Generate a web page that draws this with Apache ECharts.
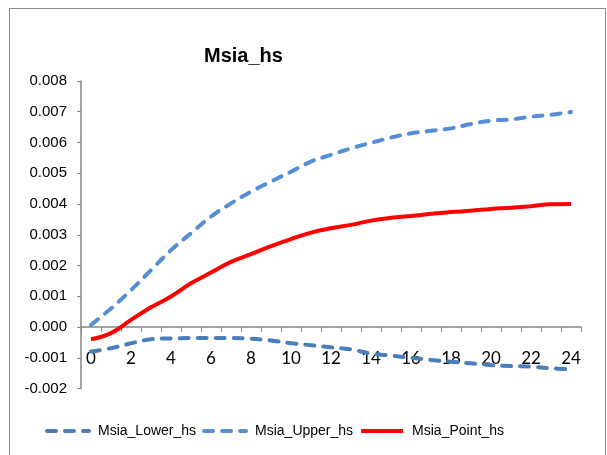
<!DOCTYPE html>
<html>
<head>
<meta charset="utf-8">
<script src="https://cdn.jsdelivr.net/npm/echarts@6/dist/echarts.min.js"></script>
<style>html,body{margin:0;padding:0;background:#fff}#c{width:607px;height:455px}</style>
</head>
<body>
<div id="c"></div>
<script>
const categories = ['0','1','2','3','4','5','6','7','8','9','10','11','12','13','14','15','16','17','18','19','20','21','22','23','24'];
const lowerHs = [-0.0008,-0.00069,-0.00053,-0.0004,-0.00037,-0.00036,-0.00036,-0.00036,-0.00038,-0.00044,-0.00053,-0.00059,-0.00066,-0.00073,-0.00086,-0.00093,-0.001,-0.00107,-0.00113,-0.00118,-0.00124,-0.00127,-0.00129,-0.00134,-0.00138];
const upperHs = [0.00007,0.0006,0.0012,0.00185,0.0025,0.00305,0.00359,0.00402,0.0044,0.00473,0.00505,0.00538,0.0056,0.00581,0.00599,0.00616,0.0063,0.00638,0.00646,0.0066,0.00671,0.00675,0.00684,0.0069,0.00699];
const pointHs = [-0.0004,-0.0002,0.00023,0.00064,0.00099,0.00142,0.00177,0.00212,0.00237,0.00263,0.00286,0.00307,0.00321,0.00332,0.00346,0.00355,0.00361,0.00368,0.00374,0.00378,0.00384,0.00388,0.00393,0.00399,0.004];
const seriesNames = ['Msia_Lower_hs','Msia_Upper_hs','Msia_Point_hs'];
const seriesColors = ['#4A7EBB','#558ED5','#FF0000'];

const chart = echarts.init(document.getElementById('c'), null, {renderer:'canvas'});
const lineStyleFor = (i) => i < 2
  ? {color: seriesColors[i], width: 4, type: [9, 9], cap: 'round'}
  : {color: seriesColors[i], width: 4, type: 'solid'};
chart.setOption({
  animation: false,
  backgroundColor: '#fff',
  title: {
    text: 'Msia_hs', left: 199, top: 41,
    textStyle: {fontFamily: 'Liberation Sans, Arial', fontWeight: 'bold', fontSize: 20, color: '#000'}
  },
  graphic: [{
    type: 'rect', shape: {x: 9.5, y: 8.5, width: 596, height: 460},
    style: {fill: null, stroke: '#8a8a8a', lineWidth: 1}, silent: true
  }],
  legend: {
    left: 40, top: 419, itemWidth: 42, itemHeight: 10, itemGap: 6,
    itemStyle: {opacity: 0},
    textStyle: {fontFamily: 'Liberation Sans, Arial', fontSize: 14, color: '#000', padding: [0,0,0,4]},
    data: seriesNames.map((n, i) => ({name: n, lineStyle: lineStyleFor(i), itemStyle: {opacity: 0}}))
  },
  grid: {left: 81, right: 26, top: 81, bottom: 66.5, containLabel: false},
  xAxis: {
    type: 'category', data: categories, boundaryGap: true, offset: -61.5, z: 3,
    axisLine: {onZero: false, lineStyle: {color: '#868686', width: 1.5}},
    axisTick: {show: true, interval: 0, length: 5, alignWithLabel: false, lineStyle: {color: '#868686'}},
    axisLabel: {interval: 1, margin: 23, fontFamily: 'Lato', fontSize: 17, color: '#000'},
    splitLine: {show: false}
  },
  yAxis: {
    type: 'value', min: -0.002, max: 0.008, interval: 0.001,
    axisLine: {show: true, lineStyle: {color: '#868686', width: 1.5}},
    axisTick: {show: true, length: 4, lineStyle: {color: '#868686'}},
    axisLabel: {margin: 14, fontFamily: 'Liberation Sans, Arial', fontSize: 15, color: '#000',
      formatter: v => v.toFixed(3)},
    splitLine: {show: false}
  },
  series: seriesNames.map((n, i) => ({
    name: n, type: 'line', data: [lowerHs, upperHs, pointHs][i],
    showSymbol: false, symbol: 'none', smooth: 0.4,
    color: seriesColors[i], lineStyle: lineStyleFor(i)
  }))
});
</script>
</body>
</html>
